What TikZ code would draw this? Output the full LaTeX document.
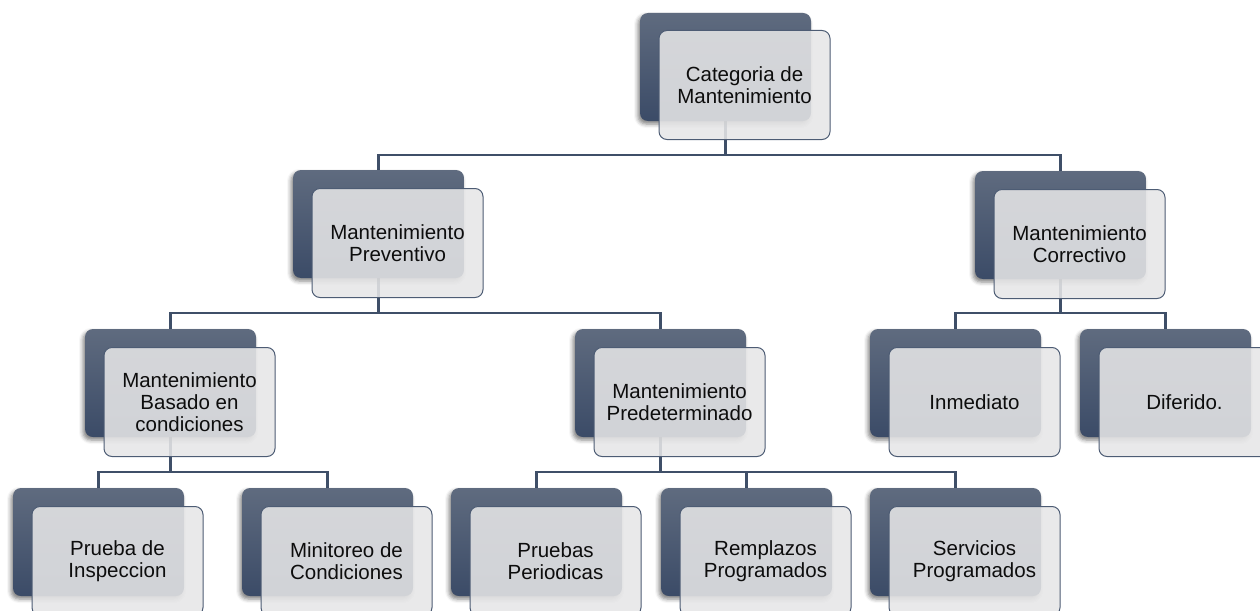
\documentclass[tikz,border=0pt]{standalone}
\usepackage{fontspec}
\setmainfont{Liberation Sans}
\usetikzlibrary{shadows.blur,calc}
\definecolor{lineblue}{HTML}{3F4F68}
\definecolor{backtop}{HTML}{5F6B7F}
\definecolor{backbot}{HTML}{3B4B67}
\definecolor{frontfill}{HTML}{E6E6E7}
\definecolor{frontedge}{HTML}{4D5C74}
\pgfdeclarelayer{bg}\pgfsetlayers{bg,main}
\tikzset{
 backbox/.style={minimum width=171pt, minimum height=108pt, inner sep=0pt, rounded corners=8pt,
   top color=backtop, bottom color=backbot,
   blur shadow={shadow xshift=-2pt, shadow yshift=-3pt, shadow blur radius=4pt, shadow opacity=50}},
 frontbox/.style={minimum width=171pt, minimum height=109pt, inner sep=0pt, rounded corners=8pt,
   fill=frontfill, fill opacity=0.88, text opacity=1, draw=frontedge, line width=1pt,
   align=center, font=\fontsize{20.5}{22}\selectfont, text=black!95},
 link/.style={draw=lineblue, line width=2.5pt}
}
\begin{document}
\begin{tikzpicture}[x=1pt,y=-1pt]
\useasboundingbox (0,0) rectangle (1260,610);
\clip (0,0) rectangle (1260,610);
\node[backbox] (b0)  at (725.5,67) {};
\node[frontbox] (f0) at (744.5,85) {Categoria de\\Mantenimiento};
\node[backbox] (bP)  at (378.5,224) {};
\node[frontbox] (fP) at (397.5,243) {Mantenimiento\\Preventivo};
\node[backbox] (bC)  at (1060.5,225) {};
\node[frontbox] (fC) at (1079.5,244) {Mantenimiento\\Correctivo};
\node[backbox] (bB)  at (170.5,383) {};
\node[frontbox] (fB) at (189.5,402) {Mantenimiento\\Basado en\\condiciones};
\node[backbox] (bD)  at (660.5,383) {};
\node[frontbox] (fD) at (679.5,402) {Mantenimiento\\Predeterminado};
\node[backbox] (bI)  at (955.5,383) {};
\node[frontbox] (fI) at (974.5,402) {Inmediato};
\node[backbox] (bF)  at (1165.5,383) {};
\node[frontbox] (fF) at (1184.5,402) {Diferido.};
\node[backbox] (bPI) at (98.5,542) {};
\node[frontbox] (fPI) at (117.5,561) {Prueba de\\Inspeccion};
\node[backbox] (bMC) at (327.5,542) {};
\node[frontbox] (fMC) at (346.5,561) {Minitoreo de\\Condiciones};
\node[backbox] (bPP) at (536.5,542) {};
\node[frontbox] (fPP) at (555.5,561) {Pruebas\\Periodicas};
\node[backbox] (bRP) at (746.5,542) {};
\node[frontbox] (fRP) at (765.5,561) {Remplazos\\Programados};
\node[backbox] (bSP) at (955.5,542) {};
\node[frontbox] (fSP) at (974.5,561) {Servicios\\Programados};
\coordinate (bus0) at (0,155);
\coordinate (busP) at (0,313);
\coordinate (busC) at (0,313);
\coordinate (busB) at (0,472);
\coordinate (busD) at (0,472);
\begin{pgfonlayer}{bg}
\draw[link] (b0.south) -- (b0.south |- bus0) -| (bP.north);
\draw[link] (b0.south |- bus0) -| (bC.north);
\draw[link] (bP.south) -- (bP.south |- busP) -| (bB.north);
\draw[link] (bP.south |- busP) -| (bD.north);
\draw[link] (bC.south) -- (bC.south |- busC) -| (bI.north);
\draw[link] (bC.south |- busC) -| (bF.north);
\draw[link] (bB.south) -- (bB.south |- busB) -| (bPI.north);
\draw[link] (bB.south |- busB) -| (bMC.north);
\draw[link] (bD.south) -- (bD.south |- busD) -| (bPP.north);
\draw[link] (bD.south |- busD) -| (bRP.north);
\draw[link] (bD.south |- busD) -| (bSP.north);
\end{pgfonlayer}
\end{tikzpicture}
\end{document}
